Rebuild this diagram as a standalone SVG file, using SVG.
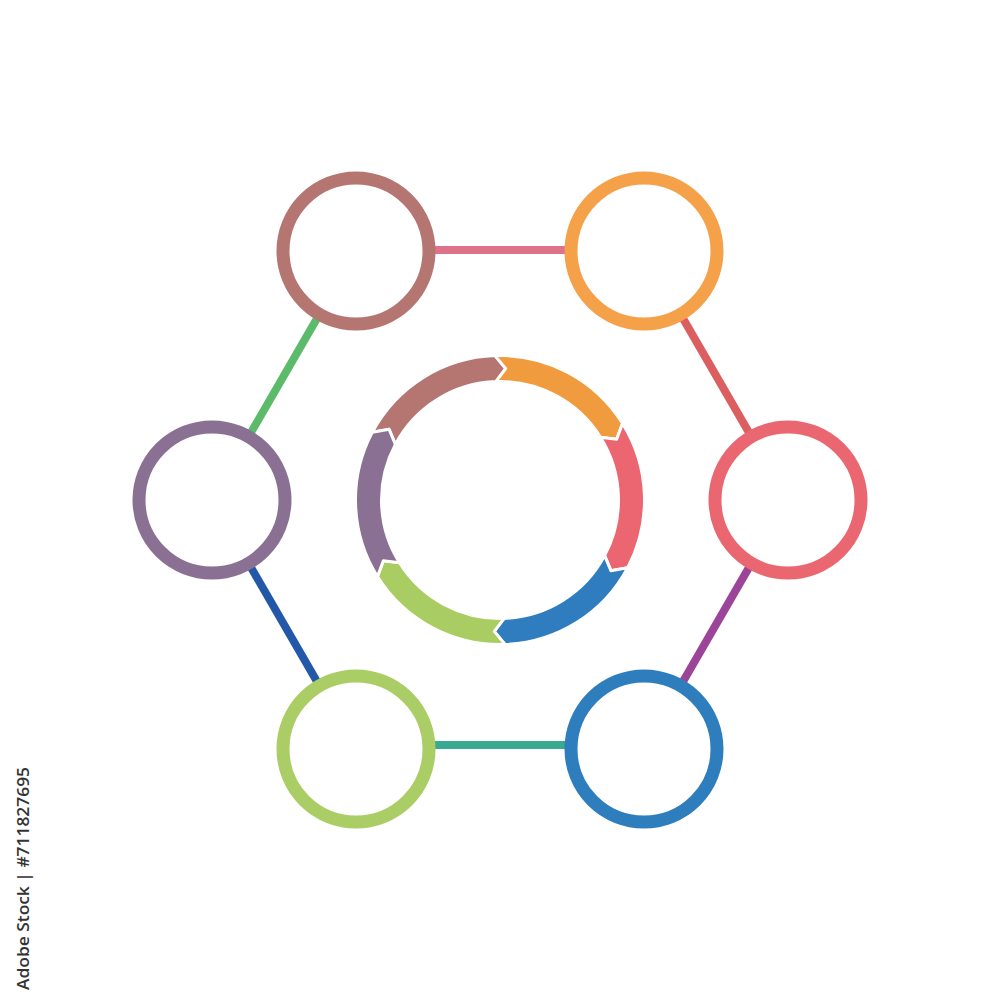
<svg xmlns="http://www.w3.org/2000/svg" width="1000" height="1000" viewBox="0 0 1000 1000">
<style>
.node{fill:#ffffff;stroke-width:13}
.link{stroke-width:8;fill:none}
.seg{stroke:#ffffff;stroke-width:3;stroke-linejoin:round}
.credit{font-family:"Open Sans","DejaVu Sans",sans-serif;font-weight:600;font-size:17px;fill:#333333}
</style>
<rect width="1000" height="1000" fill="#ffffff"/>
<g id="connectors">
<line class="link" x1="356" y1="250" x2="644" y2="250" stroke="#de7289"/>
<line class="link" x1="644" y1="251" x2="788" y2="500" stroke="#db5f60"/>
<line class="link" x1="788" y1="500" x2="644" y2="749" stroke="#9b449a"/>
<line class="link" x1="644" y1="745" x2="356" y2="745" stroke="#39a98f"/>
<line class="link" x1="356" y1="749" x2="212" y2="500" stroke="#2357a8"/>
<line class="link" x1="212" y1="500" x2="356" y2="251" stroke="#5bbb6b"/>
</g>
<g id="node-top-left"><circle class="node" cx="356" cy="251" r="73" stroke="#b57672"/></g>
<g id="node-top-right"><circle class="node" cx="644" cy="251" r="73" stroke="#f4a14a"/></g>
<g id="node-right"><circle class="node" cx="788" cy="500" r="73" stroke="#ea6670"/></g>
<g id="node-bottom-right"><circle class="node" cx="644" cy="749" r="73" stroke="#2e7dbd"/></g>
<g id="node-bottom-left"><circle class="node" cx="356" cy="749" r="73" stroke="#abcd66"/></g>
<g id="node-left"><circle class="node" cx="212" cy="500" r="73" stroke="#8a7093"/></g>
<g id="center-cycle" transform="rotate(-2 500 500)">
<path class="seg" fill="#b57672" d="M 374.86 427.75 A 144.5 144.5 0 0 1 500 355.5 L 510.32 368.91 L 500 381.5 A 118.5 118.5 0 0 0 397.38 440.75 L 391.63 425.52 Z"/>
<path class="seg" fill="#f19b3f" d="M 500 355.5 A 144.5 144.5 0 0 1 625.14 427.75 L 618.69 443.39 L 602.62 440.75 A 118.5 118.5 0 0 0 500 381.5 L 510.32 368.91 Z"/>
<path class="seg" fill="#eb6670" d="M 625.14 427.75 A 144.5 144.5 0 0 1 625.14 572.25 L 608.37 574.48 L 602.62 559.25 A 118.5 118.5 0 0 0 602.62 440.75 L 618.69 443.39 Z"/>
<path class="seg" fill="#2f7dbe" d="M 625.14 572.25 A 144.5 144.5 0 0 1 500 644.5 L 489.68 631.09 L 500 618.5 A 118.5 118.5 0 0 0 602.62 559.25 L 608.37 574.48 Z"/>
<path class="seg" fill="#a9cd62" d="M 500 644.5 A 144.5 144.5 0 0 1 374.86 572.25 L 381.31 556.61 L 397.38 559.25 A 118.5 118.5 0 0 0 500 618.5 L 489.68 631.09 Z"/>
<path class="seg" fill="#8a7093" d="M 374.86 572.25 A 144.5 144.5 0 0 1 374.86 427.75 L 391.63 425.52 L 397.38 440.75 A 118.5 118.5 0 0 0 397.38 559.25 L 381.31 556.61 Z"/>
</g>
<text class="credit" transform="translate(29 990) rotate(-90)" textLength="223" lengthAdjust="spacingAndGlyphs">Adobe Stock | #711827695</text>
</svg>
